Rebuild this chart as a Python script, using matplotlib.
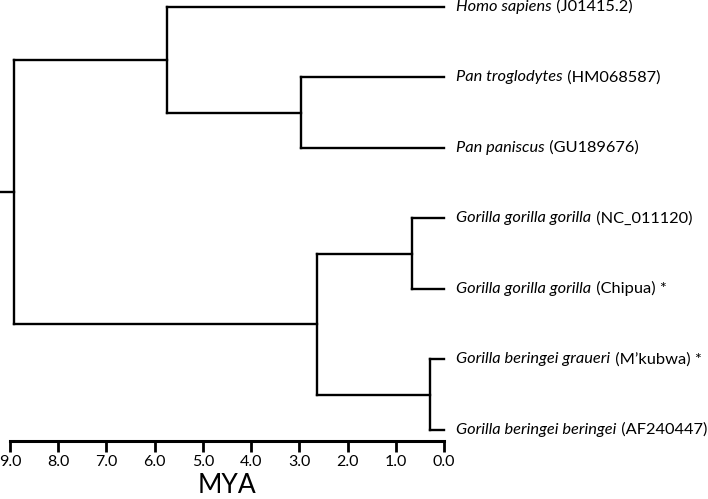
import matplotlib.pyplot as plt

# Tip labels (top to bottom): italic species name + accession
species = ["Homo sapiens", "Pan troglodytes", "Pan paniscus",
           "Gorilla gorilla gorilla", "Gorilla gorilla gorilla",
           "Gorilla beringei graueri", "Gorilla beringei beringei"]
accessions = ["(J01415.2)", "(HM068587)", "(GU189676)", "(NC_011120)",
              "(Chipua) *", "(M\u2019kubwa) *", "(AF240447)"]

# Node ages in MYA
root_age = 8.92
root_stem = 9.2
hominin_age = 5.75
pan_age = 2.97
gorilla_age = 2.64
ggg_age = 0.66
gb_age = 0.29

plt.rcParams['font.family'] = ['Lato', 'DejaVu Sans']
fig = plt.figure(figsize=(7.08, 4.99), dpi=100)
ax = fig.add_axes([10 / 708, 58 / 499, 434 / 708, 441 / 499])
ax.set_xlim(9.0, 0.0)
ax.set_ylim(6.156, -0.099)

lw = 1.7
kw = dict(color='black', lw=lw, clip_on=False, solid_capstyle='projecting')


def clade(age, y_top, y_bot):
    ax.plot([age, age], [y_top, y_bot], **kw)


def branch(x0, x1, y):
    ax.plot([x0, x1], [y, y], **kw)


tips = list(range(len(species)))
pan_y = (tips[1] + tips[2]) / 2
hom_y = (tips[0] + pan_y) / 2
ggg_y = (tips[3] + tips[4]) / 2
gb_y = (tips[5] + tips[6]) / 2
gor_y = (ggg_y + gb_y) / 2
root_y = (hom_y + gor_y) / 2

# root
branch(root_stem, root_age, root_y)
clade(root_age, hom_y, gor_y)
# hominins
branch(root_age, hominin_age, hom_y)
clade(hominin_age, tips[0], pan_y)
branch(hominin_age, 0, tips[0])
branch(hominin_age, pan_age, pan_y)
clade(pan_age, tips[1], tips[2])
branch(pan_age, 0, tips[1])
branch(pan_age, 0, tips[2])
# gorillas
branch(root_age, gorilla_age, gor_y)
clade(gorilla_age, ggg_y, gb_y)
branch(gorilla_age, ggg_age, ggg_y)
clade(ggg_age, tips[3], tips[4])
branch(ggg_age, 0, tips[3])
branch(ggg_age, 0, tips[4])
branch(gorilla_age, gb_age, gb_y)
clade(gb_age, tips[5], tips[6])
branch(gb_age, 0, tips[5])
branch(gb_age, 0, tips[6])

# tip labels
for y, sp, acc in zip(tips, species, accessions):
    t = ax.annotate(sp, xy=(0, y), xytext=(9, 0), textcoords='offset points',
                    va='center', ha='left', style='italic', fontsize=11.8,
                    annotation_clip=False)
    ax.annotate(' ' + acc, xy=(1, 0), xycoords=t, va='bottom', ha='left',
                fontsize=11.8, annotation_clip=False)

# axis
for s in ['top', 'left', 'right']:
    ax.spines[s].set_visible(False)
ax.spines['bottom'].set_linewidth(2.2)
ax.set_yticks([])
ax.set_xticks([9, 8, 7, 6, 5, 4, 3, 2, 1, 0])
ax.set_xticklabels(["%.1f" % v for v in [9, 8, 7, 6, 5, 4, 3, 2, 1, 0]])
ax.tick_params(axis='x', direction='out', length=8, width=2.0, labelsize=11.5, pad=2)
ax.set_xlabel("MYA", fontsize=19, labelpad=3)
ax.patch.set_visible(False)

fig.savefig('out.png', dpi=100)
